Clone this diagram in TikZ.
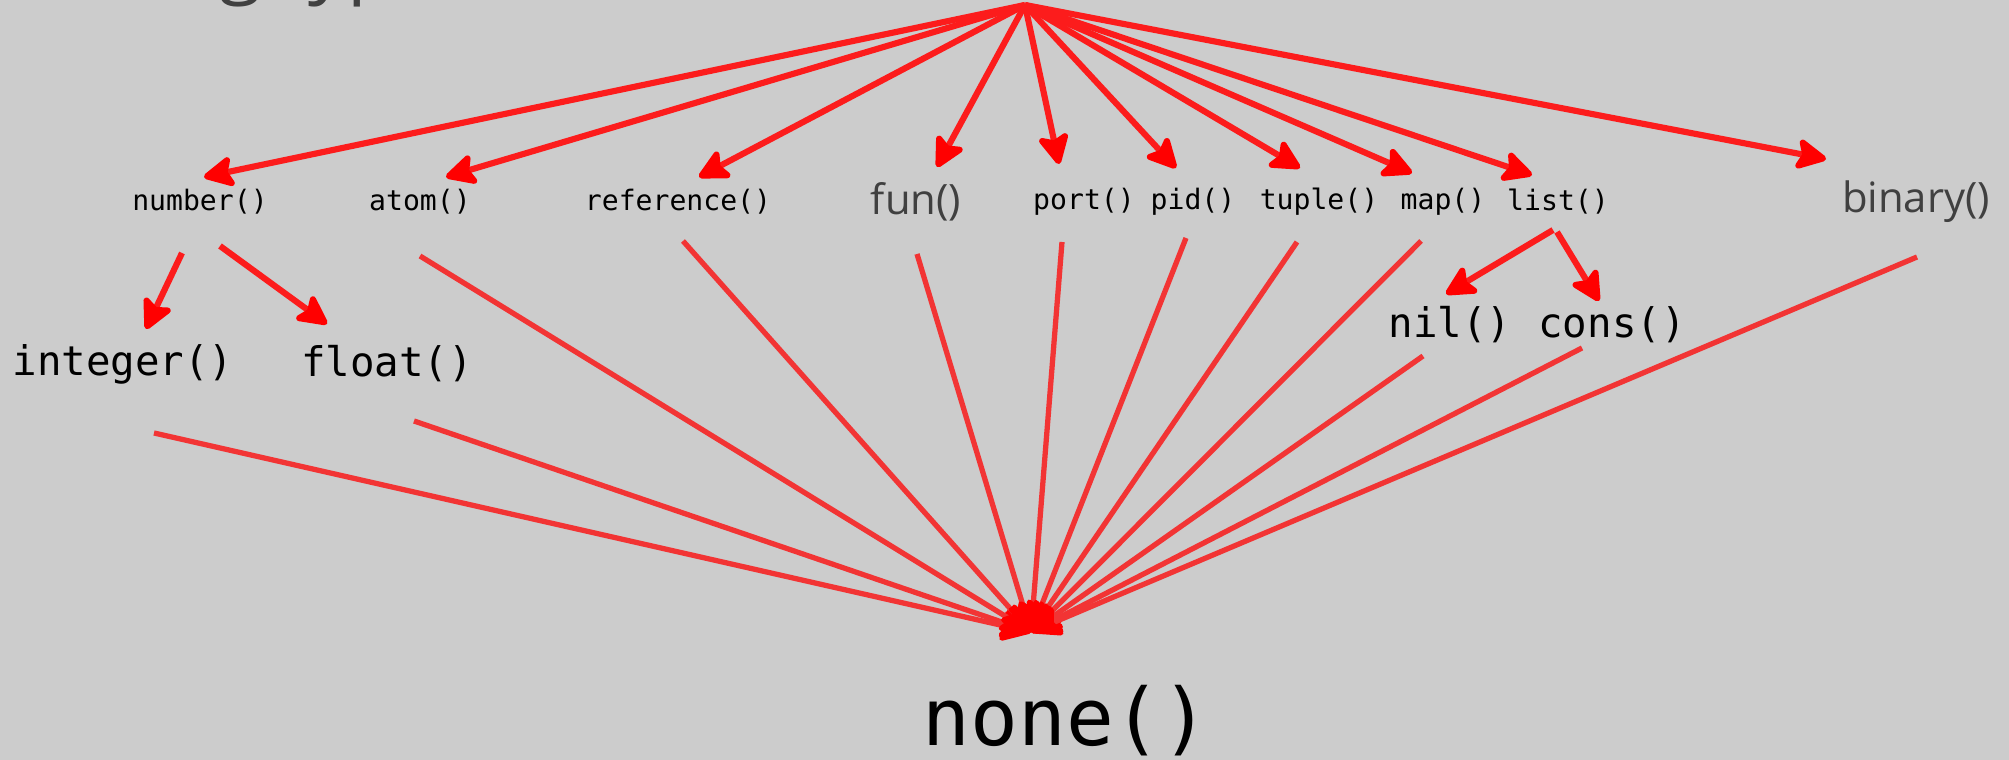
\documentclass[tikz,border=0pt]{standalone}
\usepackage{fontspec}
\usetikzlibrary{arrows.meta}
\newfontfamily\labelmono{DejaVu Sans Mono}
\newfontfamily\labelsans{Open Sans}
\definecolor{bggray}{RGB}{204,204,204}
\definecolor{linkred}{RGB}{252,28,28}
\definecolor{droplinkred}{RGB}{242,52,52}
\definecolor{textgray}{RGB}{64,64,64}
\tikzset{
  smalllabel/.style={font=\labelmono\fontsize{8}{8}\selectfont, inner sep=0pt},
  midlabel/.style={font=\labelmono\fontsize{11.6}{11.6}\selectfont, inner sep=0pt},
  biglabel/.style={font=\labelmono\fontsize{22.6}{22.6}\selectfont, inner sep=0pt},
  sanslabel/.style={font=\labelsans\fontsize{11.9}{11.9}\selectfont, text=textgray, inner sep=0pt},
  titlelabel/.style={font=\labelsans\fontsize{22}{22}\selectfont, text=textgray, inner sep=0pt},
  link/.style={draw=linkred, line width=1.75pt, ->},
  droplink/.style={draw=droplinkred, line width=1.5pt, ->}
}

\begin{document}
\begin{tikzpicture}[>={Stealth[length=10pt,width=10pt,inset=2pt,round,color=red]}]
\fill[bggray] (0,0) rectangle (20.09,7.6);
\useasboundingbox (0,0) rectangle (20.09,7.6);
\clip (0,0) rectangle (20.09,7.6);
\node[titlelabel, anchor=base west] (title) at (0.34,7.71) {Erlang types};
\coordinate (any) at (10.25,7.55);
\node[smalllabel] (number) at (2.00,5.58) {number()};
\node[smalllabel] (atom) at (4.20,5.58) {atom()};
\node[smalllabel] (reference) at (6.78,5.58) {reference()};
\node[sanslabel] (fun) at (9.16,5.58) {fun()};
\node[smalllabel] (port) at (10.84,5.58) {port()};
\node[smalllabel] (pid) at (11.93,5.58) {pid()};
\node[smalllabel] (tuple) at (13.19,5.58) {tuple()};
\node[smalllabel] (map) at (14.43,5.58) {map()};
\node[smalllabel] (list) at (15.58,5.58) {list()};
\node[sanslabel] (binary) at (19.16,5.58) {binary()};
\node[midlabel] (integer) at (1.23,3.96) {integer()};
\node[midlabel] (float) at (3.87,3.96) {float()};
\node[midlabel] (nil) at (14.50,4.35) {nil()};
\node[midlabel] (cons) at (16.12,4.35) {cons()};
\node[biglabel] (none) at (10.66,0.39) {none()};
\coordinate (sink) at ([shift={(-0.35,0.89)}]none.center);
\foreach \n/\dx/\dy in {number/0.04/0.25, atom/0.26/0.25, reference/0.21/0.25,
    fun/0.21/0.35, port/-0.25/0.38, pid/-0.17/0.34, tuple/-0.19/0.34,
    map/-0.31/0.29, list/-0.26/0.27, binary/-0.90/0.43}
  \draw[link] (any) -- ([shift={(\dx,\dy)}]\n.center);
\draw[link] ([shift={(-0.18,-0.51)}]number.center) -- ([shift={(0.23,0.35)}]integer.center);
\draw[link] ([shift={(0.20,-0.44)}]number.center) -- ([shift={(-0.60,0.40)}]float.center);
\draw[link] ([shift={(-0.05,-0.28)}]list.center) -- ([shift={(-0.04,0.31)}]nil.center);
\draw[link] ([shift={(-0.01,-0.30)}]list.center) -- ([shift={(-0.13,0.24)}]cons.center);
\foreach \n/\sx/\sy in {integer/0.31/-0.69, float/0.27/-0.57, atom/0/-0.54,
    reference/0.05/-0.39, fun/0.01/-0.52, port/-0.22/-0.40, pid/-0.07/-0.36,
    tuple/-0.22/-0.40, map/-0.22/-0.39, nil/-0.27/-0.31, cons/-0.30/-0.23,
    binary/0.01/-0.55}
  \draw[droplink] ([shift={(\sx,\sy)}]\n.center) -- (sink);
\end{tikzpicture}
\end{document}
